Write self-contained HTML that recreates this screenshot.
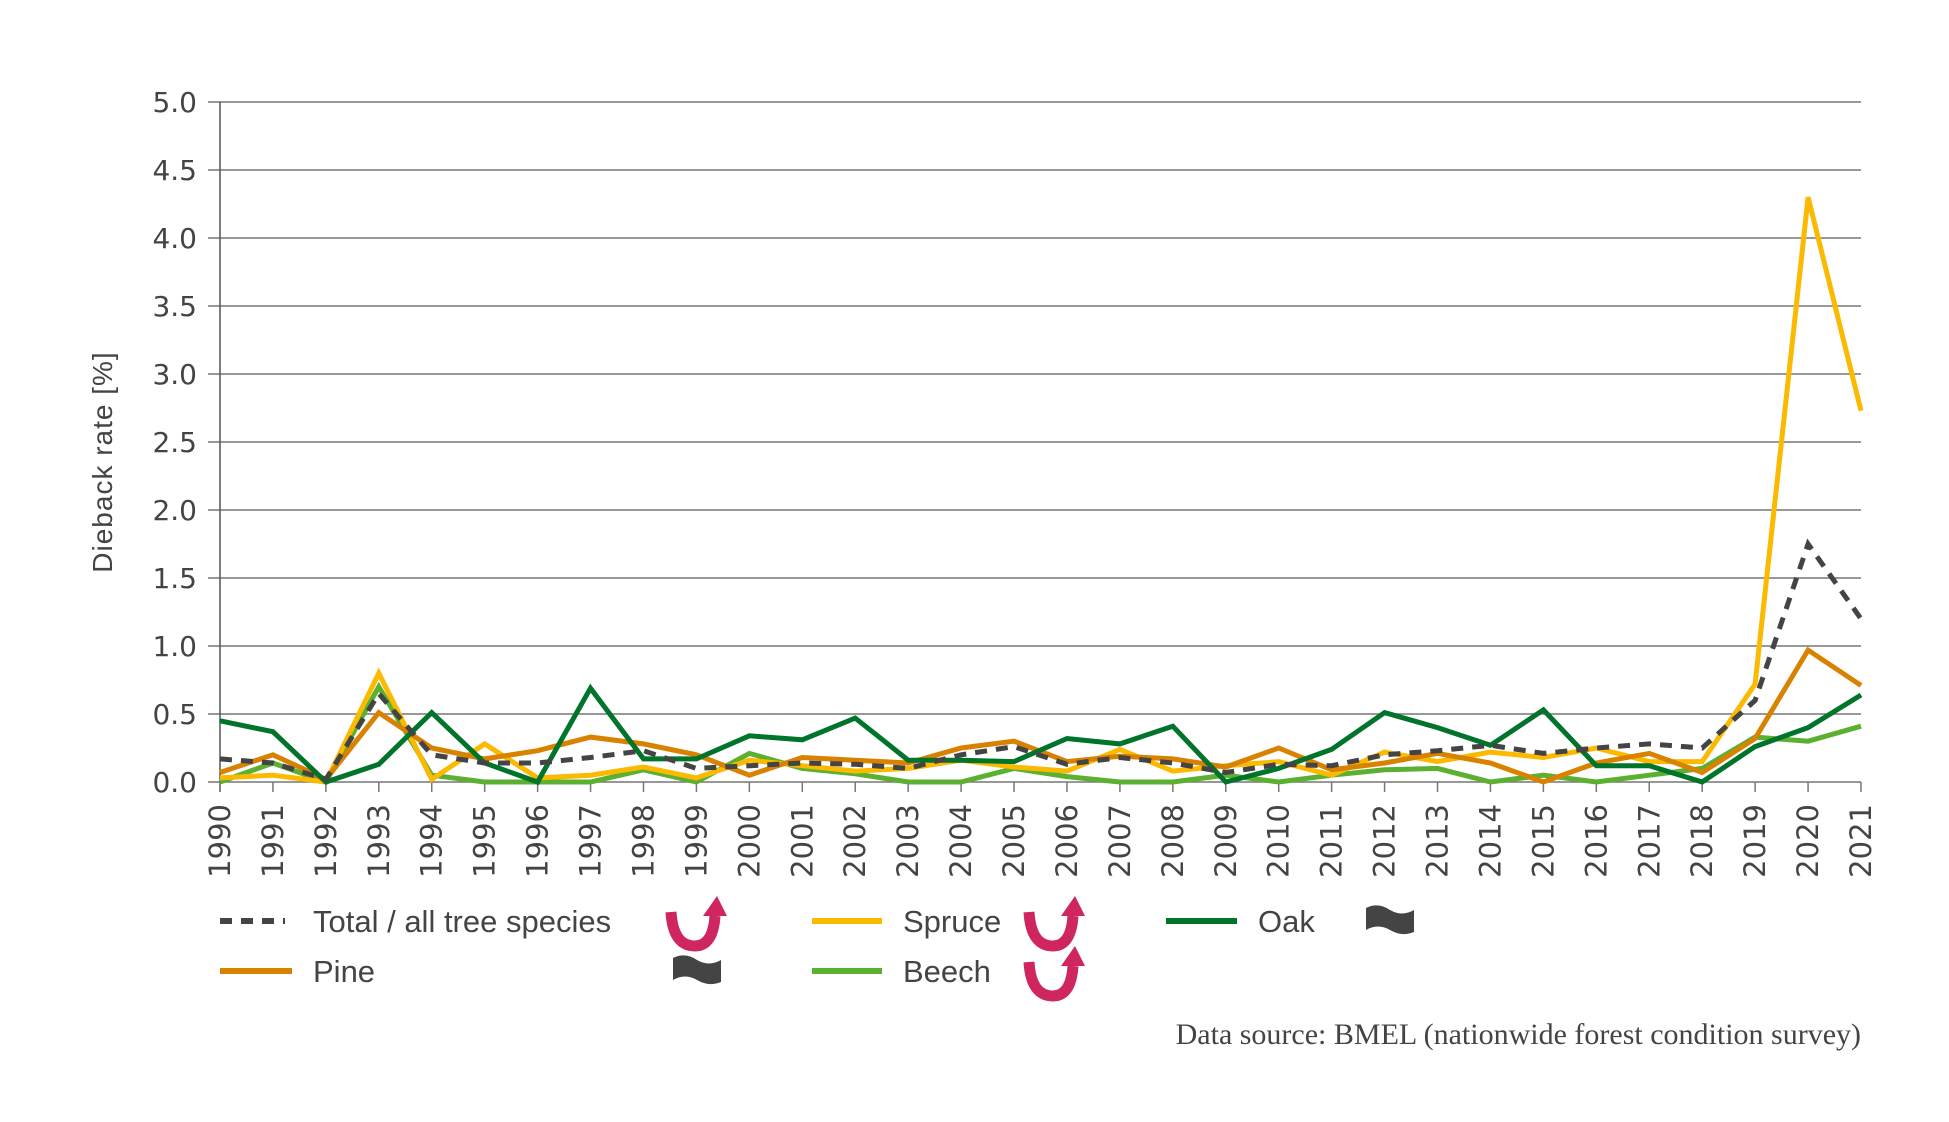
<!DOCTYPE html>
<html><head><meta charset="utf-8"><style>
html,body{margin:0;padding:0;background:#fff;}
svg{display:block;font-family:"Liberation Sans",sans-serif;}
</style></head><body>
<svg id="s" width="1949" height="1122" viewBox="0 0 1949 1122" xmlns="http://www.w3.org/2000/svg">
<g id="grid"></g>
<g id="series"></g>
<text x="112" y="462" transform="rotate(-90 112 462)" text-anchor="middle" font-size="28" fill="#444" letter-spacing="1">Dieback rate [%]</text>
<!-- legend -->
<line x1="220" y1="921" x2="285" y2="921" stroke="#444" stroke-width="6" stroke-dasharray="12,9"/>
<text x="313" y="932" font-size="31" fill="#444">Total / all tree species</text>
<line x1="220" y1="971" x2="292" y2="971" stroke="#d98200" stroke-width="6"/>
<text x="313" y="982" font-size="31" fill="#444">Pine</text>
<line x1="812" y1="921" x2="882" y2="921" stroke="#fbb900" stroke-width="6"/>
<text x="903" y="932" font-size="31" fill="#444">Spruce</text>
<line x1="812" y1="971" x2="882" y2="971" stroke="#5bb030" stroke-width="6"/>
<text x="903" y="982" font-size="31" fill="#444">Beech</text>
<line x1="1166" y1="921" x2="1237" y2="921" stroke="#00742a" stroke-width="6"/>
<text x="1258" y="932" font-size="31" fill="#444">Oak</text>
<defs>
<g id="arr">
<path d="M-24,-10 Q-22,24 0,24 Q18,24 20,-6" fill="none" stroke="#cf2560" stroke-width="11"/>
<polygon points="8,-6 32,-6 22,-26" fill="#cf2560"/>
</g>
<g id="flag">
<path d="M-24,-12 Q-12,-18 0,-10 Q12,-3 24,-10 L24,12 Q12,17 0,10 Q-12,3 -24,10 Z" fill="#444"/>
</g>
</defs>
<use href="#arr" x="695" y="922"/>
<use href="#arr" x="1053" y="922"/>
<use href="#arr" x="1053" y="972"/>
<use href="#flag" x="697" y="970"/>
<use href="#flag" x="1390" y="920"/>
<text x="1861" y="1044" text-anchor="end" font-size="30" fill="#444" font-family="Liberation Serif, serif">Data source: BMEL (nationwide forest condition survey)</text>
</svg>
<script>
var NS="http://www.w3.org/2000/svg";
var x0=220,x1=1861,y0=782,u=136,n=32,dx=(x1-x0)/31;
function X(i){return x0+i*dx} function Y(v){return y0-v*u}
var g=document.getElementById('grid'),s=document.getElementById('series');
function el(p,t,a){var e=document.createElementNS(NS,t);for(var k in a)e.setAttribute(k,a[k]);p.appendChild(e);return e;}
for(var k=0;k<=10;k++){var y=Y(k*0.5);
el(g,'line',{x1:208,x2:x1,y1:y,y2:y,stroke:'#777','stroke-width':1.5});
var t=el(g,'text',{x:197,y:y+10,'text-anchor':'end','font-size':28,fill:'#444','font-family':'DejaVu Sans, sans-serif'});t.textContent=(k*0.5).toFixed(1);}
el(g,'line',{x1:x0,x2:x0,y1:102,y2:y0+10,stroke:'#555','stroke-width':1.5});
for(var i=0;i<n;i++){var x=X(i);el(g,'line',{x1:x,x2:x,y1:y0,y2:y0+10,stroke:'#777','stroke-width':1.5});
var t=el(g,'text',{x:x+10,y:804,'text-anchor':'end','font-size':29,fill:'#444','font-family':'DejaVu Sans, sans-serif',transform:'rotate(-90 '+(x+10)+' 804)'});t.textContent=1990+i;}
var D={
beech:[0,.14,0,.7,.05,0,0,0,.09,0,.21,.1,.06,0,0,.1,.04,0,0,.05,0,.05,.09,.1,0,.05,0,.05,.1,.33,.3,.41],
spruce:[.03,.05,0,.8,.02,.28,.03,.05,.11,.03,.16,.12,.08,.1,.16,.11,.08,.24,.08,.12,.15,.05,.22,.15,.22,.18,.25,.15,.15,.72,4.3,2.73],
pine:[.07,.2,.02,.51,.25,.17,.23,.33,.28,.2,.05,.18,.16,.14,.25,.3,.15,.19,.17,.11,.25,.09,.14,.21,.14,0,.14,.21,.07,.32,.97,.71],
oak:[.45,.37,0,.13,.51,.14,0,.69,.17,.17,.34,.31,.47,.16,.16,.15,.32,.28,.41,0,.1,.24,.51,.4,.27,.53,.12,.12,0,.26,.4,.64],
total:[.17,.14,.02,.65,.2,.14,.14,.18,.23,.1,.12,.14,.13,.1,.2,.26,.13,.18,.14,.07,.13,.12,.2,.23,.27,.21,.25,.28,.25,.6,1.75,1.2]};
var C={beech:'#5bb030',spruce:'#fbb900',pine:'#d98200',oak:'#00742a',total:'#444'};
['beech','spruce','pine','oak','total'].forEach(function(k){
var p=D[k].map(function(v,i){return X(i).toFixed(1)+','+Y(v).toFixed(1)}).join(' ');
var a={points:p,fill:'none',stroke:C[k],'stroke-width':5,'stroke-linejoin':'miter'};
if(k=='total'){a['stroke-dasharray']='12,9';}
el(s,'polyline',a);});
</script>
</body></html>
